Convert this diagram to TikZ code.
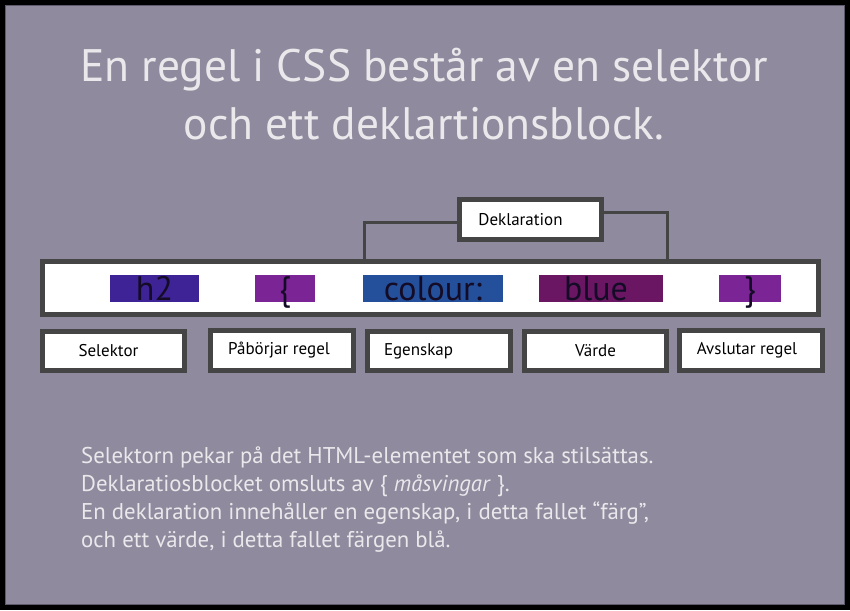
\documentclass[tikz,border=0pt]{standalone}
\usepackage{fontspec}
\setmainfont{PT Sans}
\definecolor{bg}{HTML}{8F8A9D}
\definecolor{bgedge}{HTML}{5E5A6C}
\definecolor{frame}{HTML}{454545}
\definecolor{lighttext}{HTML}{EBE8EC}
\definecolor{codetext}{HTML}{140C26}
\definecolor{hlhtwo}{HTML}{3E2397}
\definecolor{hlbrace}{HTML}{7B2496}
\definecolor{hlprop}{HTML}{244F9B}
\definecolor{hlval}{HTML}{6A1663}
\begin{document}
\begin{tikzpicture}[x=1pt,y=-1pt,
  titletext/.style={text=lighttext, font=\fontsize{45.5}{50}\selectfont, inner sep=0pt, anchor=base},
  bodytext/.style={text=lighttext, font=\fontsize{22.8}{28}\selectfont, inner sep=0pt, anchor=base west},
  labelbox/.style={draw=frame, line width=5pt, fill=white, inner sep=0pt, font=\fontsize{17}{20}\selectfont, text=black},
  codebox/.style={draw=frame, line width=5pt, fill=white, inner sep=0pt},
  hl/.style={fill=#1, inner sep=0pt, text height=25pt, text depth=2pt, text=codetext, font=\fontsize{34}{36}\selectfont},
  conn/.style={draw=frame, line width=3pt}]
\useasboundingbox (0,0) rectangle (850,610);
\fill[black] (0,0) rectangle (850,610);
\draw[fill=bg, draw=bgedge, line width=1pt] (5.5,5.5) rectangle (844,604);

\node[titletext] (t1) at (424,81) {En regel i CSS består av en selektor};
\node[titletext] (t2) at (424,139) {och ett deklartionsblock.};

\node[labelbox, minimum width=142pt, minimum height=40pt] (dek) at (530.5,219.5) {\hspace*{-20pt}Deklaration};
\node[codebox, minimum width=776pt, minimum height=53pt] (main) at (430.5,288) {};

\coordinate (cl) at (364,0);
\coordinate (cr) at (667,0);
\draw[conn] ([yshift=-2.5pt]dek.west) -| (main.north -| cl);
\draw[conn] ([yshift=7.5pt]dek.east) -| (main.north -| cr);
\node[codebox, minimum width=776pt, minimum height=53pt] at (main) {};

\node[hl=hlhtwo, minimum width=89pt] (h2) at (154.5,288.5) {h2};
\node[hl=hlbrace, minimum width=60pt] (ob) at (285,288.5) {\{};
\node[hl=hlprop, minimum width=140pt] (prop) at (433,288.5) {colour:};
\node[hl=hlval, minimum width=124pt] (val) at (601,288.5) {\hspace*{-10pt}blue};
\node[hl=hlbrace, minimum width=62pt] (cb) at (750,288.5) {\}};

\node[labelbox, minimum width=142pt, minimum height=39pt] (sel) at (113.5,351) {\hspace*{-10pt}Selektor};
\node[labelbox, minimum width=143pt, minimum height=40pt] (beg) at (282,350.5) {\hspace*{-6pt}Påbörjar regel};
\node[labelbox, minimum width=143pt, minimum height=39pt, text width=110pt, align=left, inner xsep=16.5pt] (egen) at (439,351) {\raisebox{-2pt}{Egenskap}};
\node[labelbox, minimum width=142pt, minimum height=39pt] (vard) at (595.5,351) {Värde};
\node[labelbox, minimum width=143pt, minimum height=40pt] (avs) at (751,350.5) {\hspace*{-8pt}Avslutar regel};

\node[bodytext] (b1) at (81,463) {Selektorn pekar på det HTML-elementet som ska stilsättas.};
\node[bodytext] (b2) at (81,491) {Deklaratiosblocket omsluts av \{ \textit{måsvingar} \}.};
\node[bodytext] (b3) at (81,519) {En deklaration innehåller en egenskap, i detta fallet “färg”,};
\node[bodytext] (b4) at (81,547) {och ett värde, i detta fallet färgen blå.};
\end{tikzpicture}
\end{document}
